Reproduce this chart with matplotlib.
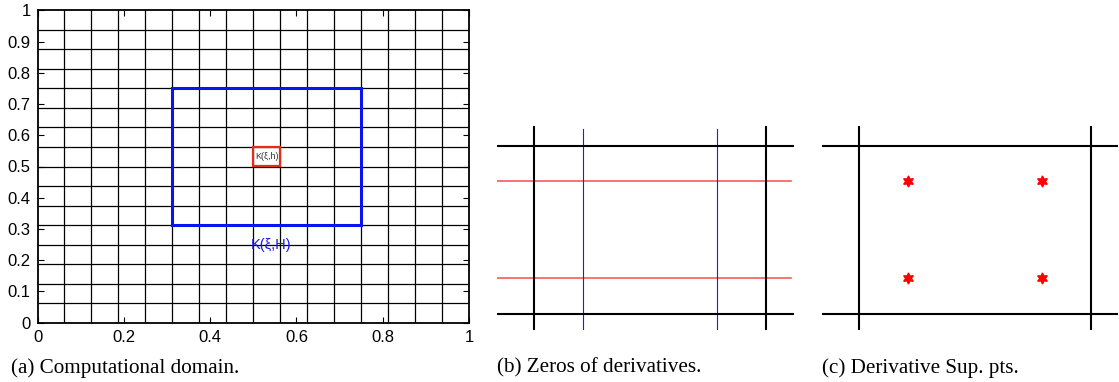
import numpy as np
import matplotlib
matplotlib.use('Agg')
import matplotlib.pyplot as plt
from matplotlib.patches import Rectangle

# mesh of the computational domain
n_cells = 16
mesh_lines = [i / n_cells for i in range(n_cells + 1)]

# coarse patch K(xi,H) and fine cell K(xi,h)
patch_H = [0.3125, 0.3125, 0.75, 0.75]      # x0, y0, x1, y1
cell_h = [0.5, 0.5, 0.5625, 0.5625]
label_H = 'K(ξ,H)'
label_h = 'K(ξ,h)'

# reference cell edges and zeros of derivatives
cell_edges = [0.0, 1.0]
zeros_x = [0.211, 0.789]
zeros_y = [0.211, 0.789]

captions = ['(a) Computational domain.', '(b) Zeros of derivatives.', '(c) Derivative Sup. pts.']

W, H = 1119, 382
fig = plt.figure(figsize=(W / 100, H / 100), dpi=100)

def px_axes(x0, y0, x1, y1):
    return fig.add_axes([x0 / W, 1 - y1 / H, (x1 - x0) / W, (y1 - y0) / H])

sans = 'Liberation Sans'
serif = 'Liberation Serif'

#### (a) domain
ax1 = px_axes(37.5, 10.3, 469, 322.7)
for v in mesh_lines[1:-1]:
    ax1.axvline(v, color='black', lw=0.9, zorder=1)
    ax1.axhline(v, color='black', lw=0.9, zorder=1)
ax1.add_patch(Rectangle((patch_H[0], patch_H[1]), patch_H[2] - patch_H[0], patch_H[3] - patch_H[1],
                        fill=False, edgecolor='#0a14f0', lw=2.2, zorder=3))
ax1.add_patch(Rectangle((cell_h[0], cell_h[1]), cell_h[2] - cell_h[0], cell_h[3] - cell_h[1],
                        fill=False, edgecolor='#e0301a', lw=1.6, zorder=4))
ax1.text((cell_h[0] + cell_h[2]) / 2, (cell_h[1] + cell_h[3]) / 2, label_h, fontsize=6.5,
         family=sans, color='#333333', ha='center', va='center', zorder=5)
ax1.text(0.542, 0.25, label_H, fontsize=10.5, family=sans, color='#1a1af0', ha='center', va='center', zorder=5)
ax1.set_xlim(0, 1)
ax1.set_ylim(0, 1)
ax1.set_xticks(np.arange(0, 1.01, 0.2))
ax1.set_xticklabels(['0', '0.2', '0.4', '0.6', '0.8', '1'])
ax1.set_yticks(np.arange(0, 1.01, 0.1))
ax1.set_yticklabels(['0', '0.1', '0.2', '0.3', '0.4', '0.5', '0.6', '0.7', '0.8', '0.9', '1'])
ax1.tick_params(direction='in', length=4, width=0.8, top=True, right=True, labelsize=12, pad=5)
for lab in ax1.get_xticklabels() + ax1.get_yticklabels():
    lab.set_family(sans)
for s in ax1.spines.values():
    s.set_linewidth(1.3)

#### (b) zeros of derivatives
ax2 = px_axes(497, 126, 794, 330)
ax2.set_xlim(-0.161, 1.121)
ax2.set_ylim(-0.097, 1.119)
for v in zeros_y:
    ax2.plot([-0.161, 1.108], [v, v], color='#ff5a5a', lw=1.2)
for v in zeros_x:
    ax2.plot([v, v], [-0.097, 1.101], color='#2020d0', lw=0.8)
for v in cell_edges:
    ax2.plot([-0.161, 1.121], [v, v], color='black', lw=1.5)
    ax2.plot([v, v], [-0.097, 1.119], color='black', lw=1.5)
ax2.axis('off')

#### (c) superconvergence points
ax3 = px_axes(821.7, 126, 1118, 330)
ax3.set_xlim(-0.161, 1.118)
ax3.set_ylim(-0.097, 1.119)
for v in cell_edges:
    ax3.plot([-0.161, 1.118], [v, v], color='black', lw=1.5)
    ax3.plot([v, v], [-0.097, 1.119], color='black', lw=1.5)
for yv in zeros_y:
    ax3.plot(zeros_x, [yv] * len(zeros_x), linestyle='None', marker=(6, 1, 0),
             markersize=8, color='red', markeredgecolor='red')
ax3.axis('off')

for x0, txt in zip([11, 497, 822], captions):
    fig.text(x0 / W, 1 - 368 / H, txt, family=serif, fontsize=15.2, ha='left', va='center')

plt.savefig('out.png', dpi=100)
